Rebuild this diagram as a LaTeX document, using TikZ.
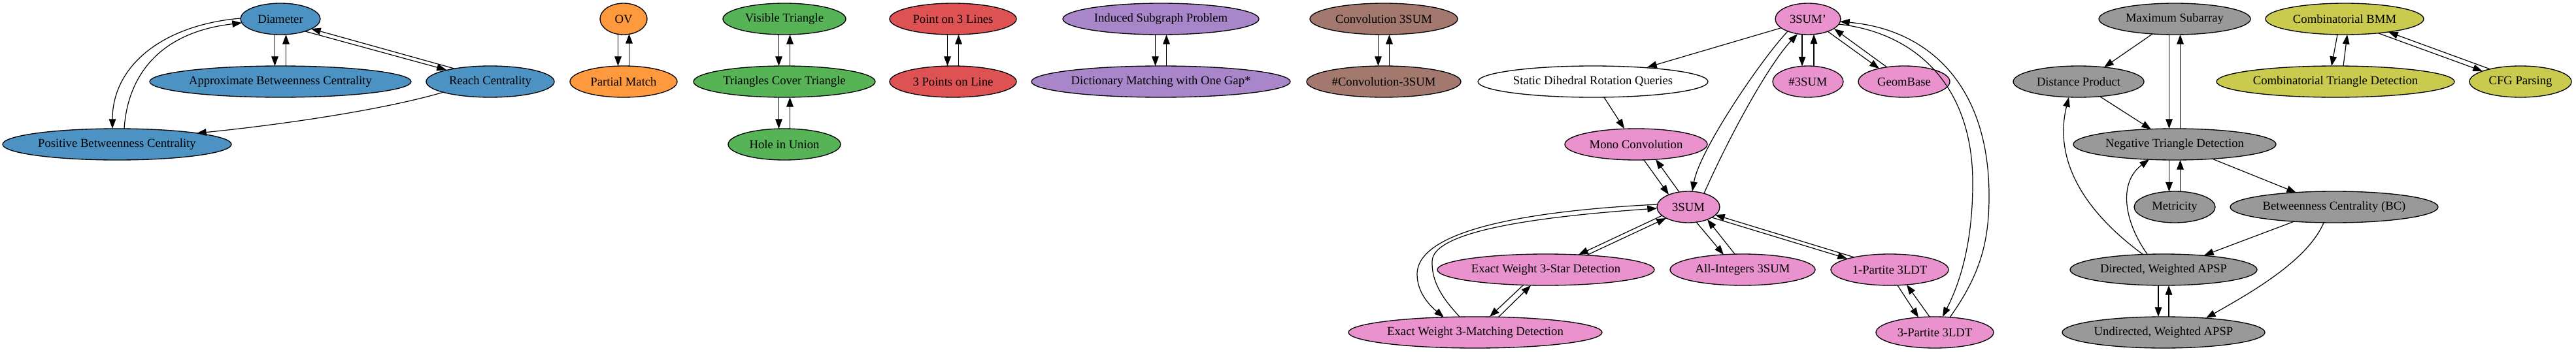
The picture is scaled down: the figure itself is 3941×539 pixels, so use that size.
\documentclass[tikz,border=0pt]{standalone}
\usepackage{fontspec}
\setmainfont{Liberation Serif}
\usetikzlibrary{shapes.geometric,arrows.meta,calc}
\definecolor{cblue}{HTML}{4C92C3}
\definecolor{corange}{HTML}{FF993E}
\definecolor{cgreen}{HTML}{56B356}
\definecolor{cred}{HTML}{DE5253}
\definecolor{cpurple}{HTML}{A985CA}
\definecolor{cbrown}{HTML}{A3786F}
\definecolor{cpink}{HTML}{E992CE}
\definecolor{cgray}{HTML}{999999}
\definecolor{colive}{HTML}{C9CA4E}
\begin{document}
\begin{tikzpicture}[x=0.75pt,y=-0.75pt,
  nd/.style={ellipse,draw=black,line width=1pt,inner sep=0pt,minimum height=36pt,font=\fontsize{14pt}{16pt}\selectfont},
  arr/.style={-{Triangle[length=11pt,width=8pt]},line width=0.9pt,draw=black}]
\useasboundingbox (0,0) rectangle (3941,539);
% blue
\node[nd,fill=cblue,minimum width=91.5pt] (diam) at (429,29) {Diameter};
\node[nd,fill=cblue,minimum width=300pt] (approx) at (429,125) {Approximate Betweenness Centrality};
\node[nd,fill=cblue,minimum width=262.5pt] (pos) at (179,221) {Positive Betweenness Centrality};
\node[nd,fill=cblue,minimum width=147pt] (reach) at (750,125) {Reach Centrality};
% orange
\node[nd,fill=corange,minimum width=54pt] (ov) at (954,29) {OV};
\node[nd,fill=corange,minimum width=123pt] (pm) at (954,125) {Partial Match};
% green
\node[nd,fill=cgreen,minimum width=141pt] (vis) at (1200,29) {Visible Triangle};
\node[nd,fill=cgreen,minimum width=208.5pt] (tct) at (1200,125) {Triangles Cover Triangle};
\node[nd,fill=cgreen,minimum width=129pt] (hole) at (1200,221) {Hole in Union};
% red
\node[nd,fill=cred,minimum width=145.5pt] (p3l) at (1458,29) {Point on 3 Lines};
\node[nd,fill=cred,minimum width=145.5pt] (p3p) at (1458,125) {3 Points on Line};
% purple
\node[nd,fill=cpurple,minimum width=225pt] (isp) at (1776,29) {Induced Subgraph Problem};
\node[nd,fill=cpurple,minimum width=297pt] (dict) at (1776,125) {Dictionary Matching with One Gap*};
% brown
\node[nd,fill=cbrown,minimum width=169.5pt] (conv) at (2117,29) {Convolution 3SUM};
\node[nd,fill=cbrown,minimum width=177pt] (sconv) at (2117,125) {\#Convolution-3SUM};
% pink
\node[nd,fill=cpink,minimum width=75pt] (tsp) at (2766,29) {3SUM'};
\node[nd,fill=white,minimum width=264pt] (sdrq) at (2437,125) {Static Dihedral Rotation Queries};
\node[nd,fill=cpink,minimum width=81pt] (s3sum) at (2766,125) {\#3SUM};
\node[nd,fill=cpink,minimum width=105pt] (geom) at (2913,125) {GeomBase};
\node[nd,fill=cpink,minimum width=163.5pt] (mono) at (2503,221) {Mono Convolution};
\node[nd,fill=cpink,minimum width=72pt] (tsum) at (2583,317) {3SUM};
\node[nd,fill=cpink,minimum width=249pt] (star) at (2365,413) {Exact Weight 3-Star Detection};
\node[nd,fill=cpink,minimum width=166.5pt] (allint) at (2666,413) {All-Integers 3SUM};
\node[nd,fill=cpink,minimum width=135pt] (onep) at (2891,413) {1-Partite 3LDT};
\node[nd,fill=cpink,minimum width=291pt] (match) at (2257,509) {Exact Weight 3-Matching Detection};
\node[nd,fill=cpink,minimum width=135pt] (threep) at (2960,509) {3-Partite 3LDT};
% gray
\node[nd,fill=cgray,minimum width=174pt] (maxsub) at (3327,29) {Maximum Subarray};
\node[nd,fill=cgray,minimum width=150pt] (dp) at (3180,125) {Distance Product};
\node[nd,fill=cgray,minimum width=232.5pt] (ntd) at (3327,221) {Negative Triangle Detection};
\node[nd,fill=cgray,minimum width=93pt] (metr) at (3327,317) {Metricity};
\node[nd,fill=cgray,minimum width=238.5pt] (bc) at (3571,317) {Betweenness Centrality (BC)};
\node[nd,fill=cgray,minimum width=214.5pt] (dapsp) at (3310,413) {Directed, Weighted APSP};
\node[nd,fill=cgray,minimum width=232.5pt] (uapsp) at (3310,509) {Undirected, Weighted APSP};
% olive
\node[nd,fill=colive,minimum width=181.5pt] (bmm) at (3587,29) {Combinatorial BMM};
\node[nd,fill=colive,minimum width=273pt] (ctd) at (3573,125) {Combinatorial Triangle Detection};
\node[nd,fill=colive,minimum width=117pt] (cfg) at (3856,125) {CFG Parsing};

% ---- blue edges
\draw[arr] ($(diam.center)+(-8.5,24)$) -- ($(approx.center)+(-8.5,-24)$);
\draw[arr] ($(approx.center)+(8.5,-24)$) -- ($(diam.center)+(8.5,24)$);
\draw[arr] ($(diam.center)+(38,19)$) -- ($(reach.center)+(-67,-18)$);
\draw[arr] ($(reach.center)+(-55,-20)$) -- ($(diam.center)+(47,15)$);
\draw[arr] ($(diam.center)+(-61,-1)$) .. controls (250,38) and (172,100) .. ($(pos.center)+(-7,-24)$);
\draw[arr] ($(pos.center)+(11,-24)$) .. controls (195,120) and (240,50) .. ($(diam.center)+(-59,6)$);
\draw[arr] ($(reach.center)+(-71,16)$) .. controls (580,170) and (420,192) .. ($(pos.center)+(122,-17)$);
% ---- orange
\draw[arr] ($(ov.center)+(-8.5,23)$) -- ($(pm.center)+(-8.5,-24)$);
\draw[arr] ($(pm.center)+(8.5,-24)$) -- ($(ov.center)+(8.5,23)$);
% ---- green
\draw[arr] ($(vis.center)+(-8.5,24)$) -- ($(tct.center)+(-8.5,-24)$);
\draw[arr] ($(tct.center)+(8.5,-24)$) -- ($(vis.center)+(8.5,24)$);
\draw[arr] ($(tct.center)+(-8.5,24)$) -- ($(hole.center)+(-8.5,-24)$);
\draw[arr] ($(hole.center)+(8.5,-24)$) -- ($(tct.center)+(8.5,24)$);
% ---- red
\draw[arr] ($(p3l.center)+(-8.5,24)$) -- ($(p3p.center)+(-8.5,-24)$);
\draw[arr] ($(p3p.center)+(8.5,-24)$) -- ($(p3l.center)+(8.5,24)$);
% ---- purple
\draw[arr] ($(isp.center)+(-8.5,24)$) -- ($(dict.center)+(-8.5,-24)$);
\draw[arr] ($(dict.center)+(8.5,-24)$) -- ($(isp.center)+(8.5,24)$);
% ---- brown
\draw[arr] ($(conv.center)+(-8.5,24)$) -- ($(sconv.center)+(-8.5,-24)$);
\draw[arr] ($(sconv.center)+(8.5,-24)$) -- ($(conv.center)+(8.5,24)$);
% ---- pink
\draw[arr] ($(tsp.center)+(-42,14)$) -- ($(sdrq.center)+(83,-22)$);
\draw[arr] ($(sdrq.center)+(17,24)$) -- ($(mono.center)+(-18,-24)$);
\draw[arr] ($(mono.center)+(12,24)$) -- ($(tsum.center)+(-30,-19)$);
\draw[arr] ($(tsum.center)+(-14,-23)$) -- ($(mono.center)+(30,23)$);
\draw[arr] ($(tsp.center)+(-31,19)$) .. controls (2695,90) and (2600,230) .. ($(tsum.center)+(6,-24)$);
\draw[arr] ($(tsum.center)+(24,-21)$) .. controls (2645,210) and (2705,100) .. ($(tsp.center)+(-16,23)$);
\draw[arr] ($(tsp.center)+(-9,23.5)$) -- ($(s3sum.center)+(-9,-23.5)$);
\draw[arr] ($(s3sum.center)+(9,-23.5)$) -- ($(tsp.center)+(9,23.5)$);
\draw[arr] ($(tsp.center)+(30,19)$) -- ($(geom.center)+(-38,-20)$);
\draw[arr] ($(geom.center)+(-26,-22)$) -- ($(tsp.center)+(40,15)$);
\draw[arr] ($(threep.center)+(23,-23)$) .. controls (3030,420) and (3043,370) .. (3043,300) .. controls (3043,130) and (2950,45) .. ($(tsp.center)+(49,4)$);
\draw[arr] ($(tsp.center)+(47,8)$) .. controls (2930,50) and (3018,130) .. (3018,280) .. controls (3018,380) and (2995,440) .. ($(threep.center)+(12,-24)$);
\draw[arr] ($(tsum.center)+(-40,13)$) -- ($(star.center)+(50,-23)$);
\draw[arr] ($(star.center)+(62,-22)$) -- ($(tsum.center)+(-34,17)$);
\draw[arr] ($(tsum.center)+(12,23)$) -- ($(allint.center)+(-29,-23)$);
\draw[arr] ($(allint.center)+(-12,-24)$) -- ($(tsum.center)+(29,19)$);
\draw[arr] ($(tsum.center)+(36,16)$) -- ($(onep.center)+(-65,-17)$);
\draw[arr] ($(onep.center)+(-54,-19)$) -- ($(tsum.center)+(41,12)$);
\draw[arr] ($(onep.center)+(12,24)$) -- ($(threep.center)+(-25,-23)$);
\draw[arr] ($(threep.center)+(-8,-24)$) -- ($(onep.center)+(26,23)$);
\draw[arr] ($(star.center)+(-34,23)$) -- ($(match.center)+(22,-24)$);
\draw[arr] ($(match.center)+(36,-24)$) -- ($(star.center)+(-23,24)$);
\draw[arr] ($(tsum.center)+(-47,-4)$) .. controls (2350,322) and (2168,350) .. (2168,420) .. controls (2168,450) and (2190,470) .. ($(match.center)+(-48,-23)$);
\draw[arr] ($(match.center)+(-24,-24)$) .. controls (2205,455) and (2190,430) .. (2191,400) .. controls (2192,350) and (2380,330) .. ($(tsum.center)+(-48,2)$);
% ---- gray
\draw[arr] ($(maxsub.center)+(-34,23)$) -- ($(dp.center)+(39,-22)$);
\draw[arr] ($(maxsub.center)+(-8.5,24)$) -- ($(ntd.center)+(-8.5,-24)$);
\draw[arr] ($(ntd.center)+(8.5,-24)$) -- ($(maxsub.center)+(8.5,24)$);
\draw[arr] ($(dp.center)+(33,23)$) -- ($(ntd.center)+(-36,-23)$);
\draw[arr] ($(ntd.center)+(-8.5,24)$) -- ($(metr.center)+(-8.5,-23.5)$);
\draw[arr] ($(metr.center)+(8.5,-23.5)$) -- ($(ntd.center)+(8.5,24)$);
\draw[arr] ($(ntd.center)+(57,22)$) -- ($(bc.center)+(-58,-22)$);
\draw[arr] ($(bc.center)+(-61,22)$) -- ($(dapsp.center)+(62,-22)$);
\draw[arr] ($(bc.center)+(-16,24)$) .. controls (3530,400) and (3440,450) .. ($(uapsp.center)+(65,-22)$);
\draw[arr] ($(dapsp.center)+(-31,-23)$) .. controls (3170,310) and (3145,230) .. ($(dp.center)+(-15,24)$);
\draw[arr] ($(dapsp.center)+(-25,-24)$) .. controls (3250,340) and (3240,280) .. ($(ntd.center)+(-39,23)$);
\draw[arr] ($(dapsp.center)+(-8,24)$) -- ($(uapsp.center)+(-8,-24)$);
\draw[arr] ($(uapsp.center)+(8,-24)$) -- ($(dapsp.center)+(8,24)$);
% ---- olive
\draw[arr] ($(bmm.center)+(-11,24)$) -- ($(ctd.center)+(-6,-24)$);
\draw[arr] ($(ctd.center)+(12,-24)$) -- ($(bmm.center)+(4,24)$);
\draw[arr] ($(bmm.center)+(52,22)$) -- ($(cfg.center)+(-58,-16)$);
\draw[arr] ($(cfg.center)+(-46,-19)$) -- ($(bmm.center)+(67,20)$);
\end{tikzpicture}
\end{document}
